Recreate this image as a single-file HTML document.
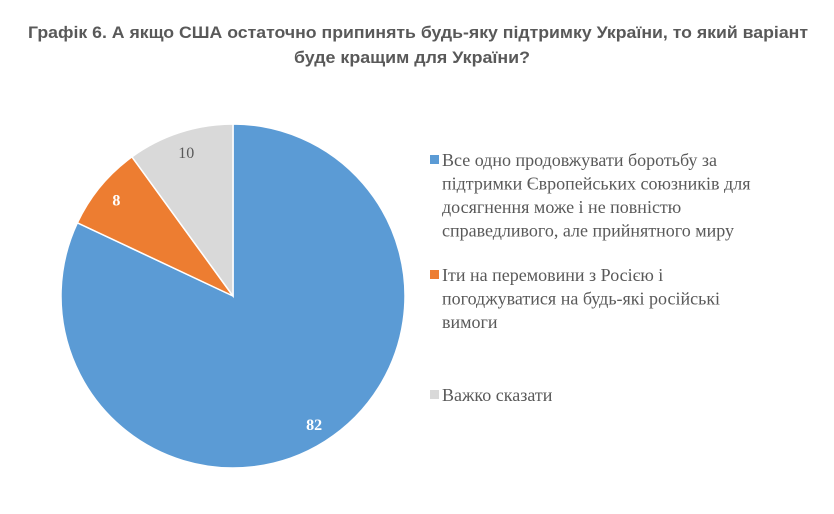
<!DOCTYPE html>
<html><head><meta charset="utf-8"><style>
body{margin:0;background:#fff;}
svg{display:block;}
</style></head><body>
<svg width="834" height="514" viewBox="0 0 834 514">
<text x="418" y="38" text-anchor="middle" textLength="780" lengthAdjust="spacingAndGlyphs" font-family="Liberation Sans, sans-serif" font-weight="bold" font-size="17" fill="#595959">Графік 6. А якщо США остаточно припинять будь-яку підтримку України, то який варіант</text>
<text x="412" y="63" text-anchor="middle" textLength="236" lengthAdjust="spacingAndGlyphs" font-family="Liberation Sans, sans-serif" font-weight="bold" font-size="17" fill="#595959">буде кращим для України?</text>
<g id="slices"></g>
<g id="legend" font-family="Liberation Serif, serif" font-size="18" fill="#595959"></g>
</svg>
<script>
const categories=["Все одно продовжувати боротьбу за підтримки Європейських союзників для досягнення може і не повністю справедливого, але прийнятного миру","Іти на перемовини з Росією і погоджуватися на будь-які російські вимоги","Важко сказати"];
const values=[82,8,10];
const colors=["#5b9bd5","#ed7d31","#d9d9d9"];
const legendLines=[["Все одно продовжувати боротьбу за","підтримки Європейських союзників для","досягнення може і не повністю","справедливого, але прийнятного миру"],["Іти на перемовини з Росією і","погоджуватися на будь-які російські","вимоги"],["Важко сказати"]];
const NS="http://www.w3.org/2000/svg";
const cx=233,cy=296,r=172;
const total=values.reduce((a,b)=>a+b,0);
const g=document.getElementById('slices');
let acc=0;
values.forEach((v,i)=>{
  const a0=acc/total*2*Math.PI, a1=(acc+v)/total*2*Math.PI; acc+=v;
  const x0=cx+r*Math.sin(a0),y0=cy-r*Math.cos(a0),x1=cx+r*Math.sin(a1),y1=cy-r*Math.cos(a1);
  const p=document.createElementNS(NS,'path');
  p.setAttribute('d',`M${cx},${cy}L${x0},${y0}A${r},${r} 0 ${(a1-a0)>Math.PI?1:0} 1 ${x1},${y1}Z`);
  p.setAttribute('fill',colors[i]);p.setAttribute('stroke','#fff');p.setAttribute('stroke-width','1.5');
  
  
  g.appendChild(p);
  const am=(a0+a1)/2, lr=r*0.88;
  const t=document.createElementNS(NS,'text');
  t.setAttribute('x',cx+lr*Math.sin(am));t.setAttribute('y',cy-lr*Math.cos(am)+6);
  t.setAttribute('text-anchor','middle');t.setAttribute('font-family','Liberation Serif, serif');
  t.setAttribute('font-size','16');
  t.setAttribute('font-weight',i==2?'normal':'bold');
  t.setAttribute('fill',i==2?'#595959':'#fff');
  t.textContent=v;
  
  
  g.appendChild(t);
});
const lg=document.getElementById('legend');
const startY=[166,281,401];
legendLines.forEach((lines,i)=>{
  const s=document.createElementNS(NS,'rect');
  s.setAttribute('x',430);s.setAttribute('y',startY[i]-11);s.setAttribute('width',9);s.setAttribute('height',9);
  s.setAttribute('fill',colors[i]);
  
  
  lg.appendChild(s);
  const t=document.createElementNS(NS,'text');
  
  
  lines.forEach((ln,j)=>{
    const ts=document.createElementNS(NS,'tspan');
    ts.setAttribute('x',442);ts.setAttribute('y',startY[i]+j*23.5);
    ts.textContent=ln;t.appendChild(ts);
  });
  lg.appendChild(t);
});
</script>
</body></html>
